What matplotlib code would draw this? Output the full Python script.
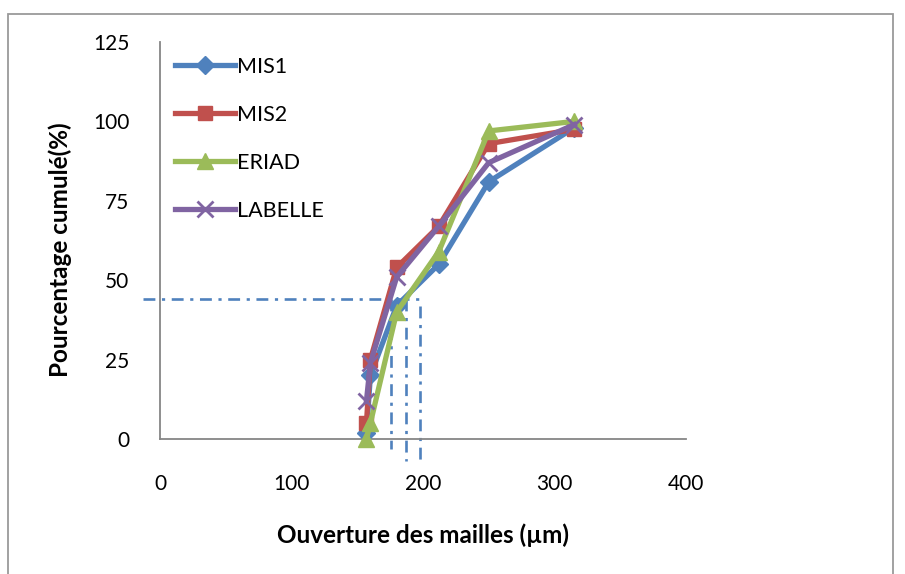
"""Cumulative sieve curves for the four flour samples."""

import matplotlib.pyplot as plt
from matplotlib.patches import Rectangle

plt.rcParams["font.family"] = ["Lato", "DejaVu Sans"]

# sieve openings (µm) and cumulative passing (%)
openings = [157, 160, 180, 212, 250, 315]
mis1 = [2, 20, 42, 55, 81, 98]
mis2 = [5, 25, 54, 67, 93, 97.5]
eriad = [0, 5, 40, 59, 97, 100]
labelle = [12, 24, 51, 67, 87, 99]

# reading of the 45 % point on the curves
read_level = 44
read_left = -13
read_openings = [176, 187, 198]
read_tops = [44, 44, 42]
read_bottoms = [-3, -7, -7]

series = [
    ("MIS1", mis1, "#4F81BD", "D", 9.5),
    ("MIS2", mis2, "#C0504D", "s", 10.5),
    ("ERIAD", eriad, "#9BBB59", "^", 11.5),
    ("LABELLE", labelle, "#8064A2", "x", 11),
]

TICK_FS = 15
LEGEND_FS = 15.5
LABEL_FS = 17.5
GUIDE = "#4F81BD"
DASHDOT = (0, (4.5, 2.5, 1.2, 2.5))

fig = plt.figure(figsize=(9.05, 5.74), dpi=100)
ax = fig.add_axes([160 / 905, 1 - 439 / 574, 526 / 905, 397 / 574])

for name, values, color, marker, size in series:
    ax.plot(openings, values, color=color, lw=3.8, marker=marker, ms=size,
            mew=2 if marker == "x" else 1, mec=color, mfc=color, label=name,
            clip_on=False, zorder=3)

ax.plot([read_left, read_openings[-1]], [read_level, read_level], color=GUIDE,
        lw=1.9, ls=DASHDOT, clip_on=False, zorder=2)
for xv, top, bot in zip(read_openings, read_tops, read_bottoms):
    ax.plot([xv, xv], [top, bot], color=GUIDE, lw=1.9, ls=DASHDOT,
            clip_on=False, zorder=2)

ax.set_xlim(0, 400)
ax.set_ylim(0, 125)
ax.set_xticks([0, 100, 200, 300, 400])
ax.set_yticks([0, 25, 50, 75, 100, 125])
ax.tick_params(axis="both", length=0, labelsize=TICK_FS)
ax.tick_params(axis="x", pad=25)
ax.tick_params(axis="y", pad=22)
for side in ("top", "right"):
    ax.spines[side].set_visible(False)
for side in ("left", "bottom"):
    ax.spines[side].set_color("#868686")
    ax.spines[side].set_linewidth(1.3)

ax.set_xlabel("Ouverture des mailles (µm)", fontsize=LABEL_FS,
              fontweight="bold")
ax.xaxis.set_label_coords(0.5, -(535 - 439) / 397)
ax.xaxis.label.set_va("center")
ax.set_ylabel("Pourcentage cumulé(%)", fontsize=LABEL_FS, fontweight="bold")
ax.yaxis.set_label_coords(-(160 - 60) / 526, (439 - 250) / 397)
ax.yaxis.label.set_va("center")

ax.legend(loc="upper left", bbox_to_anchor=(175 / 905, 1 - 57 / 574),
          bbox_transform=fig.transFigure, frameon=False, fontsize=LEGEND_FS,
          handlelength=2.8, handletextpad=0.1, labelspacing=1.3,
          borderaxespad=0, borderpad=0)

fig.patches.append(Rectangle((8 / 905, -0.05), 885 / 905, 1.05 - 14 / 574,
                             transform=fig.transFigure, fill=False,
                             edgecolor="#9a9a9a", lw=1.3))

fig.savefig("out.png", dpi=100)
